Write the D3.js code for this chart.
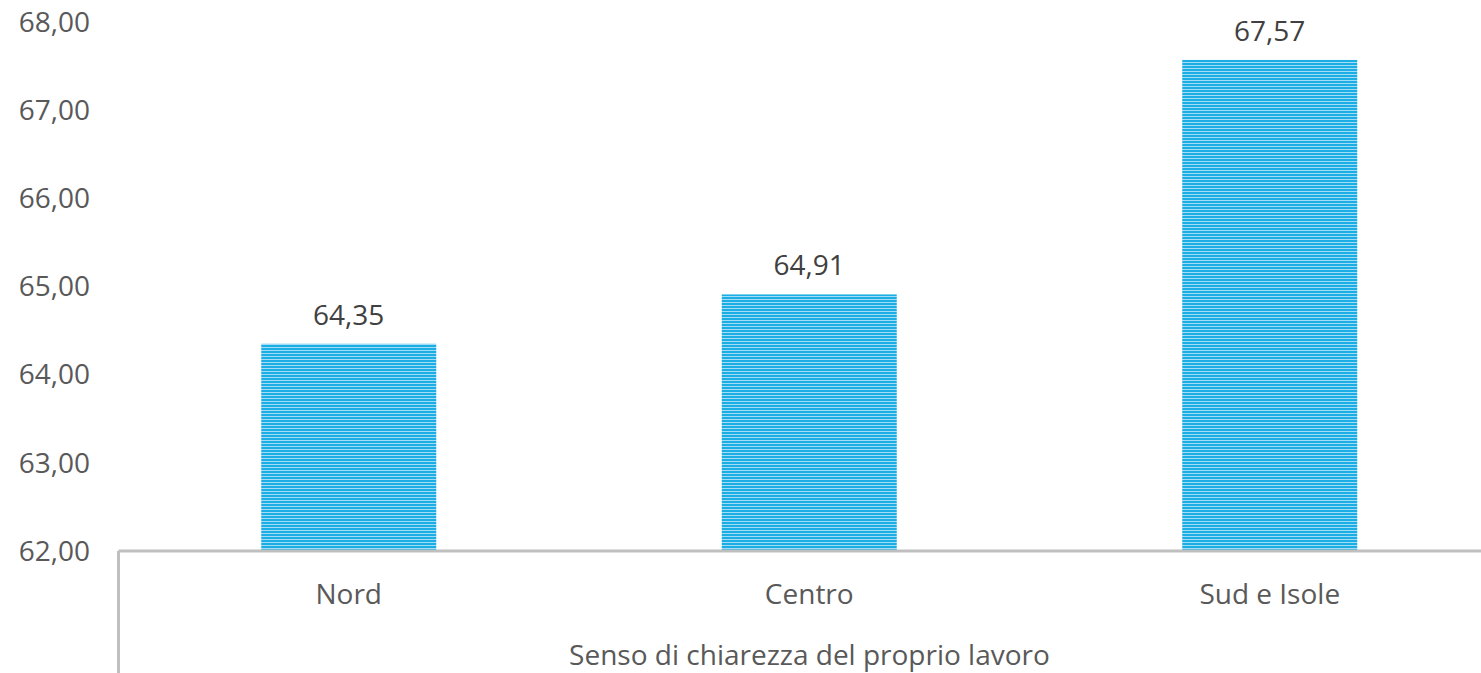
<!DOCTYPE html>
<html><head><meta charset="utf-8">
<script src="https://cdn.jsdelivr.net/npm/d3@7"></script>
<style>body{margin:0;background:#fff;} svg{display:block;}</style>
</head><body>
<svg id="c" width="1481" height="673"></svg>
<script>
const categories = ["Nord", "Centro", "Sud e Isole"];
const values = [64.35, 64.91, 67.57];
const yTicks = [62, 63, 64, 65, 66, 67, 68];
const axisTitle = "Senso di chiarezza del proprio lavoro";

(function(){
const svg = d3.select("#c");
const W = 1481, H = 673;
const mLeft = 118.5, mRight = 1500, mTop = 22, mBottom = 551;
const fmt = v => d3.format(".2f")(v).replace(".", ",");

const x = d3.scaleBand().domain(categories).range([mLeft, mRight]).paddingInner(0.62).paddingOuter(0.31);
const y = d3.scaleLinear().domain([62, 68]).range([mBottom, mTop]);

const defs = svg.append("defs");
const pat = defs.append("pattern").attr("id","stripes").attr("patternUnits","userSpaceOnUse")
  .attr("width", 8).attr("height", 3);
pat.append("rect").attr("width",8).attr("height",3).attr("fill","#1aaee5");
pat.append("rect").attr("y",2).attr("width",8).attr("height",1).attr("fill","#a3dcf4");

const font = "'Open Sans', sans-serif";
const fs = 28;

svg.append("g").selectAll("text").data(yTicks).join("text")
  .attr("x", 90).attr("y", d => y(d)).attr("dy","0.35em")
  .attr("text-anchor","end").attr("font-family",font).attr("font-size",fs)
  .attr("fill","#595959").text(d => fmt(d));

svg.append("g").selectAll("rect").data(values).join("rect")
  .attr("x", (d,i) => x(categories[i])).attr("width", x.bandwidth())
  .attr("y", d => y(d)).attr("height", d => y(62) - y(d))
  .attr("fill","url(#stripes)");

svg.append("g").selectAll("text").data(values).join("text")
  .attr("x", (d,i) => x(categories[i]) + x.bandwidth()/2).attr("y", d => y(d) - 29).attr("dy","0.35em")
  .attr("text-anchor","middle").attr("font-family",font).attr("font-size",fs)
  .attr("fill","#404040").text(d => fmt(d));

svg.append("line").attr("x1", mLeft).attr("x2", W).attr("y1", mBottom).attr("y2", mBottom)
  .attr("stroke","#bfbfbf").attr("stroke-width",3);
svg.append("line").attr("x1", mLeft).attr("x2", mLeft).attr("y1", mBottom).attr("y2", H)
  .attr("stroke","#bfbfbf").attr("stroke-width",3);

svg.append("g").selectAll("text").data(categories).join("text")
  .attr("x", d => x(d) + x.bandwidth()/2).attr("y", 594).attr("dy","0.35em")
  .attr("text-anchor","middle").attr("font-family",font).attr("font-size",fs)
  .attr("fill","#595959").text(d => d);

svg.append("text").attr("x", 809.5).attr("y", 655).attr("dy","0.35em")
  .attr("text-anchor","middle").attr("font-family",font).attr("font-size",fs)
  .attr("fill","#595959").text(axisTitle);
})();
</script>
</body></html>
